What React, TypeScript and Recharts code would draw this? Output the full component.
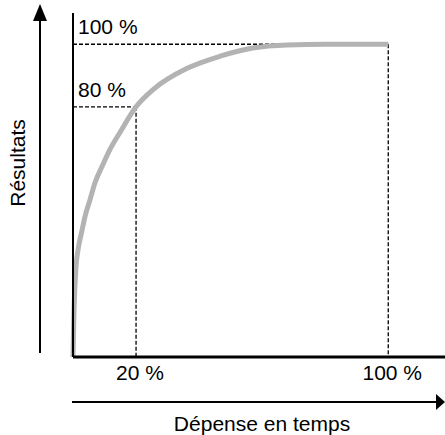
import { LineChart, Line, XAxis, YAxis, ReferenceLine } from "recharts";

// temps dépensé (%) / résultats obtenus (%)
const spendPct = [0, 0.3, 0.95, 1.6, 2.7, 3.8, 5.4, 7.0, 9.2, 11.7, 14.9, 20, 25.4, 36.2, 46.7, 57, 68, 80, 100];
const resultPct = [0, 14, 28.8, 34.3, 39.7, 44.9, 50.3, 55.8, 60.9, 66.3, 71.8, 80, 85.5, 92.3, 96.2, 98.8, 99.8, 100, 100];

const xTicks = [20, 100];
const yTicks = [80, 100];

const curve = spendPct.map((x, i) => ({ x, y: resultPct[i] }));

const FONT = "'Liberation Sans', Arial, sans-serif";
const DASH = "4 2";

function YTick({ x, y, payload }: any) {
  return (
    <text x={x} y={y - 10} textAnchor="start" fontSize={21} fontFamily={FONT} fill="#000">
      {payload.value} %
    </text>
  );
}

export default function App() {
  return (
    <div style={{ position: "absolute", left: 0, top: 0, background: "#fff" }}>
      <LineChart width={445} height={435} data={curve} margin={{ top: 13, right: 0, left: 73, bottom: 48 }}>
        <XAxis
          dataKey="x"
          type="number"
          domain={[0, 118]}
          ticks={xTicks}
          tickFormatter={(v) => `${v} %`}
          tickLine={false}
          tickSize={0}
          tickMargin={8}
          height={30}
          axisLine={{ stroke: "#000", strokeWidth: 3 }}
          tick={{ fill: "#000", fontSize: 21, fontFamily: FONT, dx: 4 }}
        />
        <YAxis
          type="number"
          domain={[0, 110]}
          ticks={yTicks}
          mirror
          tickLine={false}
          tickSize={0}
          tickMargin={5}
          axisLine={{ stroke: "#000", strokeWidth: 2 }}
          tick={<YTick />}
        />
        <ReferenceLine segment={[{ x: 0, y: 100 }, { x: 100, y: 100 }]} stroke="#000" strokeWidth={1.3} strokeDasharray={DASH} />
        <ReferenceLine segment={[{ x: 100, y: 100 }, { x: 100, y: 0 }]} stroke="#000" strokeWidth={1.3} strokeDasharray={DASH} />
        <ReferenceLine segment={[{ x: 0, y: 80 }, { x: 20, y: 80 }]} stroke="#000" strokeWidth={1.3} strokeDasharray={DASH} />
        <ReferenceLine segment={[{ x: 20, y: 80 }, { x: 20, y: 0 }]} stroke="#000" strokeWidth={1.3} strokeDasharray={DASH} />
        <Line
          dataKey="y"
          type="monotone"
          stroke="#b3b3b3"
          strokeWidth={5}
          dot={false}
          activeDot={false}
          isAnimationActive={false}
        />

        {/* flèches extérieures et titres */}
        <line x1={40} y1={18} x2={40} y2={353} stroke="#000" strokeWidth={2} />
        <polygon points="40,4 33,21 47,21" fill="#000" />
        <line x1={72} y1={402} x2={438} y2={402} stroke="#000" strokeWidth={2} />
        <polygon points="445,402 436,394 436,410" fill="#000" />
        <text x={25} y={163} transform="rotate(-90 25 163)" textAnchor="middle" fontSize={21} fontFamily={FONT} fill="#000">
          Résultats
        </text>
        <text x={262} y={431} textAnchor="middle" fontSize={21} fontFamily={FONT} fill="#000">
          Dépense en temps
        </text>
      </LineChart>
    </div>
  );
}
